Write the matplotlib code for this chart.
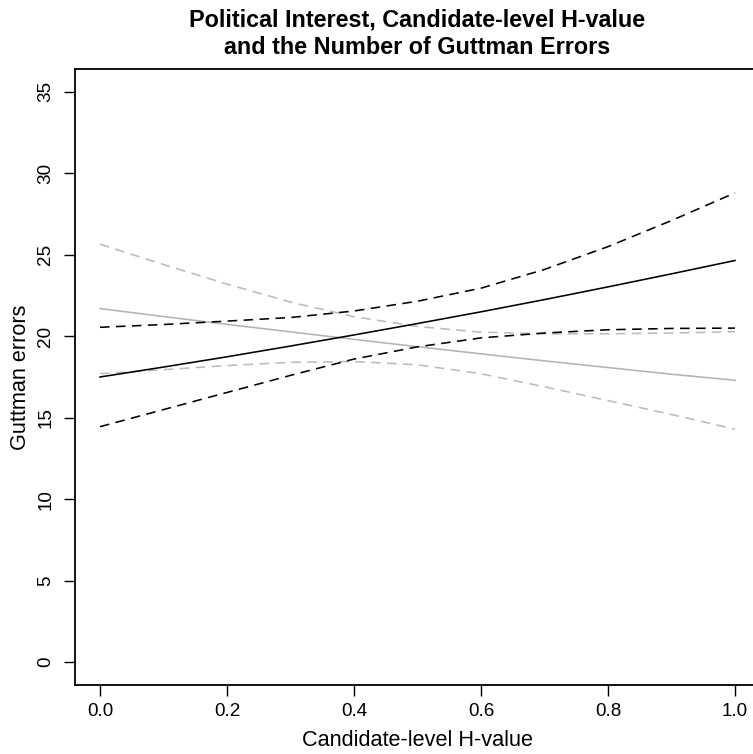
import matplotlib
matplotlib.use("Agg")
import matplotlib.pyplot as plt

plt.rcParams['font.family'] = ['Liberation Sans', 'DejaVu Sans']

h_value = [0.0, 0.1, 0.2, 0.3, 0.4, 0.5, 0.6, 0.7, 0.8, 0.9, 1.0]

# black series (predicted errors and confidence bounds)
black_fit = [17.50, 18.11, 18.74, 19.40, 20.08, 20.78, 21.50, 22.25, 23.03, 23.83, 24.65]
black_upper = [20.55, 20.72, 20.93, 21.15, 21.55, 22.15, 22.95, 24.10, 25.50, 27.10, 28.80]
black_lower = [14.45, 15.50, 16.55, 17.60, 18.60, 19.35, 19.90, 20.20, 20.40, 20.48, 20.50]

# grey series
grey_fit = [21.70, 21.21, 20.73, 20.27, 19.81, 19.36, 18.92, 18.49, 18.08, 17.67, 17.30]
grey_upper = [25.65, 24.40, 23.20, 22.10, 21.20, 20.60, 20.25, 20.15, 20.15, 20.20, 20.28]
grey_lower = [17.70, 17.95, 18.20, 18.40, 18.45, 18.25, 17.70, 16.90, 16.05, 15.20, 14.30]

x_ticks = [0.0, 0.2, 0.4, 0.6, 0.8, 1.0]
x_ticklabels = ["0.0", "0.2", "0.4", "0.6", "0.8", "1.0"]
y_ticks = [0, 5, 10, 15, 20, 25, 30, 35]

title = "Political Interest, Candidate-level H-value\nand the Number of Guttman Errors"
xlabel = "Candidate-level H-value"
ylabel = "Guttman errors"

W, H = 753, 754
fig = plt.figure(figsize=(W / 100, H / 100), dpi=100)
left_px, right_px, top_px, bottom_px = 74.6, 760.4, 69, 685
ax = fig.add_axes([left_px / W, 1 - bottom_px / H, (right_px - left_px) / W, (bottom_px - top_px) / H])

grey = "#BBBBBB"
dash = (0, (6, 4))
lw = 1.15
ax.plot(h_value, grey_upper, color=grey, lw=lw, linestyle=dash)
ax.plot(h_value, grey_lower, color=grey, lw=lw, linestyle=dash)
ax.plot(h_value, grey_fit, color="#B3B3B3", lw=lw)
ax.plot(h_value, black_upper, color="black", lw=lw, linestyle=dash)
ax.plot(h_value, black_lower, color="black", lw=lw, linestyle=dash)
ax.plot(h_value, black_fit, color="black", lw=lw)

ax.set_xlim(-0.04, 1.04)
ax.set_ylim(-1.4, 36.4)
ax.set_xticks(x_ticks)
ax.set_xticklabels(x_ticklabels)
ax.set_yticks(y_ticks)
ax.set_yticklabels([str(v) for v in y_ticks], rotation=90, va='center')

for s in ax.spines.values():
    s.set_linewidth(1.3)
ax.tick_params(direction='out', length=8, width=1.0, labelsize=13.6, pad=5)
ax.tick_params(axis='y', pad=6.5)

ax.set_xlabel(xlabel, fontsize=15.6, labelpad=7)
ax.set_ylabel(ylabel, fontsize=15.6, labelpad=5)
ax.set_title(title, fontsize=16.8, fontweight='bold', pad=10.5, linespacing=1.25)

fig.savefig("out.png", dpi=100)
